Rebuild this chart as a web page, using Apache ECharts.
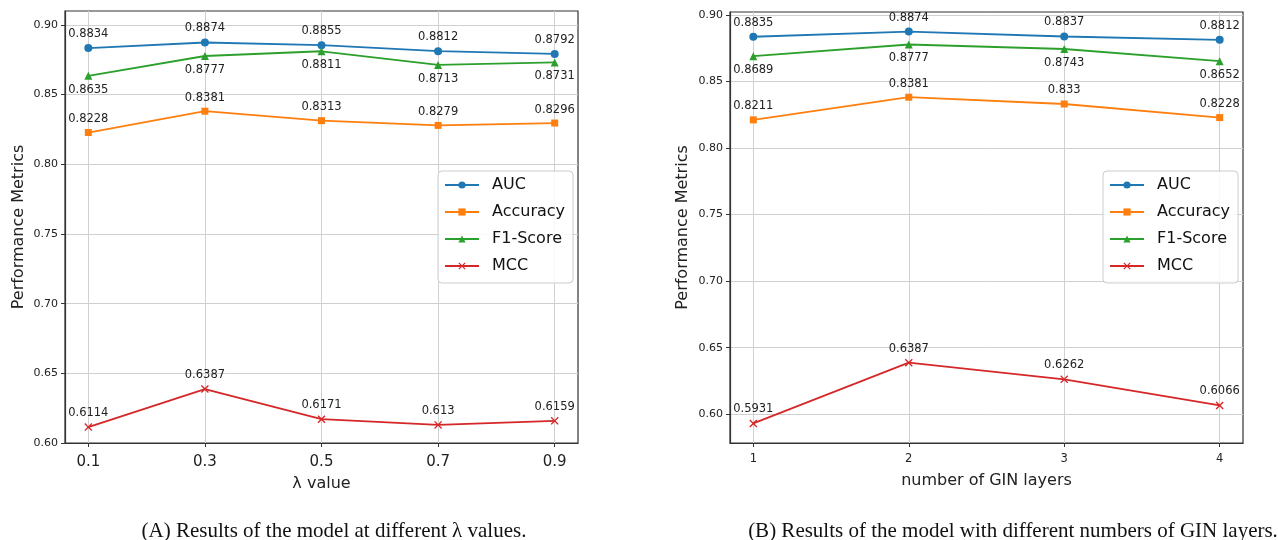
<!DOCTYPE html>
<html><head><meta charset="utf-8">
<script src="https://cdn.jsdelivr.net/npm/echarts@6/dist/echarts.min.js"></script>
<style>html,body{margin:0;padding:0;background:#fff}#c{width:1278px;height:540px}</style>
</head><body><div id="c"></div>
<script>
// ---- Data ----
const seriesNames = ['AUC', 'Accuracy', 'F1-Score', 'MCC'];

const lambdaValues = [0.1, 0.3, 0.5, 0.7, 0.9];
const lambdaAUC = [0.8834, 0.8874, 0.8855, 0.8812, 0.8792];
const lambdaAccuracy = [0.8228, 0.8381, 0.8313, 0.8279, 0.8296];
const lambdaF1 = [0.8635, 0.8777, 0.8811, 0.8713, 0.8731];
const lambdaMCC = [0.6114, 0.6387, 0.6171, 0.613, 0.6159];

const ginLayers = [1, 2, 3, 4];
const ginAUC = [0.8835, 0.8874, 0.8837, 0.8812];
const ginAccuracy = [0.8211, 0.8381, 0.833, 0.8228];
const ginF1 = [0.8689, 0.8777, 0.8743, 0.8652];
const ginMCC = [0.5931, 0.6387, 0.6262, 0.6066];

const yTicks = [0.60, 0.65, 0.70, 0.75, 0.80, 0.85, 0.90];
const xTicksA = lambdaValues;
const xTicksB = ginLayers;

const captionA = '(A) Results of the model at different λ values.';
const captionB = '(B) Results of the model with different numbers of GIN layers.';

// ---- Styles ----
const FONT = 'DejaVu Sans';
const colors = ['#1f77b4', '#ff7f0e', '#2ca02c', '#d62728'];
const xPath = 'path://M0,1.2L1.2,0L5,3.8L8.8,0L10,1.2L6.2,5L10,8.8L8.8,10L5,6.2L1.2,10L0,8.8L3.8,5Z';
const symbols = ['circle', 'rect', 'triangle', xPath];
const symbolSizes = [8, 7, 8, 8];
const labelPos = ['top', 'top', 'bottom', 'top'];

function zip(xs, ys) { return xs.map((x, i) => [x, ys[i]]); }

function makeSeries(idx, xs, ys, g) {
  return {
    type: 'line', name: seriesNames[idx], xAxisIndex: g, yAxisIndex: g,
    data: zip(xs, ys),
    symbol: symbols[idx], symbolSize: symbolSizes[idx],
    showAllSymbol: true,
    lineStyle: { color: colors[idx], width: 1.8 },
    itemStyle: { color: colors[idx], borderColor: colors[idx], borderWidth: 0 },
    label: {
      show: true, position: labelPos[idx], distance: 4,
      fontFamily: FONT, fontSize: 11.5, color: '#222',
      formatter: p => String(p.value[1])
    },
    emphasis: { disabled: true },
    animation: false
  };
}

function xAxis(g, min, max, ticks, fmt, fs, margin, name, gap) {
  return {
    type: 'value', gridIndex: g, min: min, max: max,
    axisLine: { show: true, lineStyle: { color: '#333', width: 1.2 } },
    axisTick: { show: true, length: 4, customValues: ticks, lineStyle: { color: '#333' } },
    axisLabel: { customValues: ticks, formatter: fmt, fontFamily: FONT, fontSize: fs, color: '#222', margin: margin },
    splitLine: { show: true, lineStyle: { color: '#d0d0d0', width: 1 } },
    name: name, nameLocation: 'middle', nameGap: gap,
    nameTextStyle: { fontFamily: FONT, fontSize: 16, color: '#222' }
  };
}
function yAxis(g, min, max, gap) {
  return {
    type: 'value', gridIndex: g, min: min, max: max,
    axisLine: { show: true, lineStyle: { color: '#333', width: 1.2 } },
    axisTick: { show: true, length: 4, customValues: yTicks, lineStyle: { color: '#333' } },
    axisLabel: { customValues: yTicks, formatter: v => v.toFixed(2), fontFamily: FONT, fontSize: 11, color: '#222', margin: 7 },
    splitLine: { show: true, lineStyle: { color: '#d0d0d0', width: 1 } },
    name: 'Performance Metrics', nameLocation: 'middle', nameGap: gap,
    nameTextStyle: { fontFamily: FONT, fontSize: 16, color: '#222' }
  };
}
function legend(left) {
  return {
    data: seriesNames, orient: 'vertical', left: left, top: 171,
    itemWidth: 34, itemHeight: 9, itemGap: 11,
    padding: [6, 8, 9, 6],
    backgroundColor: 'rgba(255,255,255,0.85)', borderColor: '#cccccc', borderWidth: 1, borderRadius: 4,
    textStyle: { fontFamily: FONT, fontSize: 16, color: '#111', lineHeight: 16, padding: [0, 0, 0, 8] },
    selectedMode: false
  };
}

const chart = echarts.init(document.getElementById('c'), null, { renderer: 'canvas' });
chart.setOption({
  animation: false,
  backgroundColor: '#fff',
  grid: [
    { left: 65, top: 11, width: 513, height: 432, show: true, borderColor: '#333', borderWidth: 1.2, containLabel: false },
    { left: 730, top: 12, width: 513, height: 431, show: true, borderColor: '#333', borderWidth: 1.2, containLabel: false }
  ],
  xAxis: [
    xAxis(0, 0.06, 0.94, xTicksA, v => v.toFixed(1), 15, 12, 'λ value', 33),
    xAxis(1, 0.85, 4.15, xTicksB, v => String(v), 11.5, 10, 'number of GIN layers', 30)
  ],
  yAxis: [
    yAxis(0, 0.60, 0.91, 38),
    yAxis(1, 0.5784, 0.9021, 39)
  ],
  legend: [legend(438), legend(1103)],
  series: [
    makeSeries(0, lambdaValues, lambdaAUC, 0),
    makeSeries(1, lambdaValues, lambdaAccuracy, 0),
    makeSeries(2, lambdaValues, lambdaF1, 0),
    makeSeries(3, lambdaValues, lambdaMCC, 0),
    makeSeries(0, ginLayers, ginAUC, 1),
    makeSeries(1, ginLayers, ginAccuracy, 1),
    makeSeries(2, ginLayers, ginF1, 1),
    makeSeries(3, ginLayers, ginMCC, 1)
  ],
  graphic: [
    { type: 'text', x: 334, y: 531, style: { text: captionA, font: '21px "Liberation Serif"', fill: '#111', textAlign: 'center', textVerticalAlign: 'middle' } },
    { type: 'text', x: 1013, y: 531, style: { text: captionB, font: '21px "Liberation Serif"', fill: '#111', textAlign: 'center', textVerticalAlign: 'middle' } }
  ]
});
</script>
</body></html>
